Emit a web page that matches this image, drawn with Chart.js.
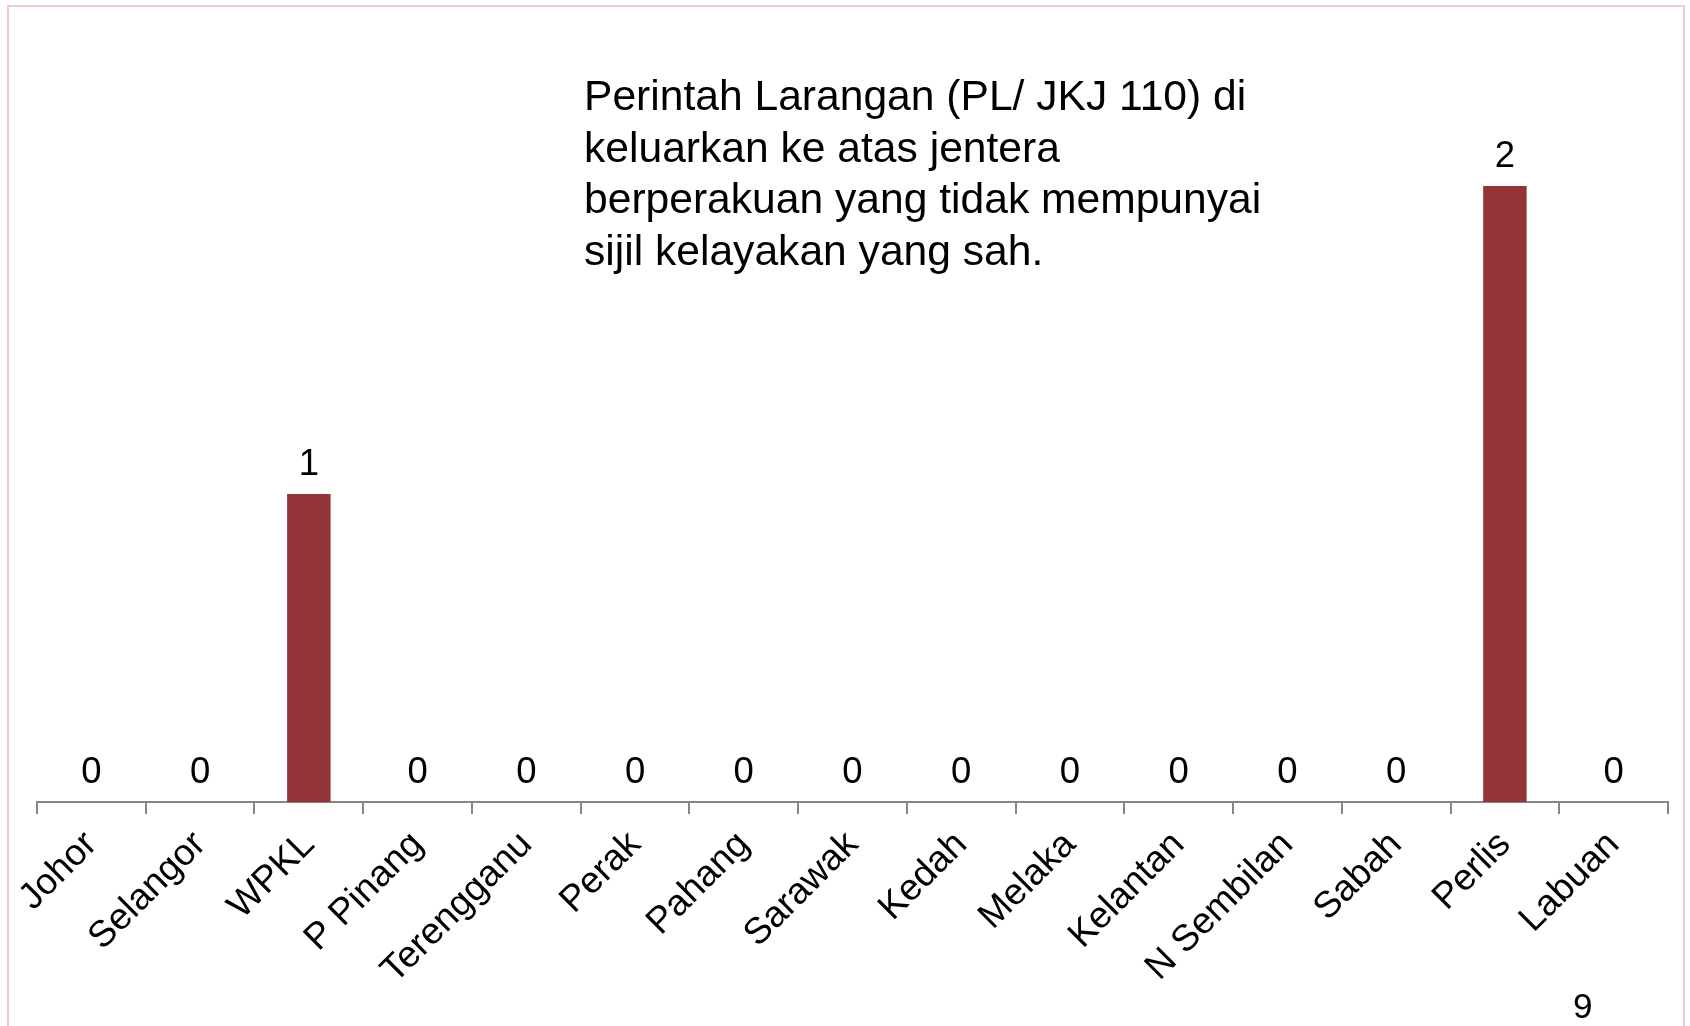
<!DOCTYPE html>
<html>
<head>
<meta charset="utf-8">
<script src="https://cdn.jsdelivr.net/npm/chart.js@4/dist/chart.umd.min.js"></script>
<style>
  html, body { margin: 0; padding: 0; background: #ffffff; }
  body { width: 1690px; height: 1026px; position: relative; overflow: hidden; font-family: "Liberation Sans", Arial, sans-serif; }
  #frame { position: absolute; left: 7px; top: 5px; width: 1678px; height: 1100px; border: 2px solid #f0cccc; box-sizing: border-box; }
  #wrap { position: absolute; left: 0; top: 0; width: 1690px; height: 1026px; }
  #note { position: absolute; left: 584px; top: 70px; font-size: 42.6px; line-height: 51.7px; color: #000; white-space: nowrap; }
  #page { position: absolute; left: 1573px; top: 988px; font-size: 35px; line-height: 35px; color: #000; }
</style>
</head>
<body>
<div id="frame"></div>
<div id="wrap"><canvas id="c" width="1690" height="1026"></canvas></div>
<div id="note">Perintah Larangan (PL/ JKJ 110) di<br>keluarkan ke atas jentera<br>berperakuan yang tidak mempunyai<br>sijil kelayakan yang sah.</div>
<div id="page">9</div>
<script>
const categories = ["Johor", "Selangor", "WPKL", "P Pinang", "Terengganu", "Perak", "Pahang", "Sarawak", "Kedah", "Melaka", "Kelantan", "N Sembilan", "Sabah", "Perlis", "Labuan"];
const values = [0, 0, 1, 0, 0, 0, 0, 0, 0, 0, 0, 0, 0, 2, 0];

const valueLabels = {
  id: 'valueLabels',
  afterDatasetsDraw(chart) {
    const ctx = chart.ctx;
    const meta = chart.getDatasetMeta(0);
    ctx.save();
    ctx.font = '36.5px "Liberation Sans", Arial, sans-serif';
    ctx.fillStyle = '#000000';
    ctx.textAlign = 'center';
    ctx.textBaseline = 'alphabetic';
    meta.data.forEach((bar, i) => {
      ctx.fillText(String(values[i]), bar.x, bar.y - 19);
    });
    ctx.restore();
  }
};

new Chart(document.getElementById('c'), {
  type: 'bar',
  data: {
    labels: categories,
    datasets: [{
      data: values,
      backgroundColor: '#953436',
      borderWidth: 0,
      barPercentage: 0.4,
      categoryPercentage: 1.0
    }]
  },
  options: {
    responsive: false,
    animation: false,
    devicePixelRatio: 1,
    layout: { padding: { top: 32, left: 37, right: 22, bottom: 0 } },
    plugins: { legend: { display: false }, tooltip: { enabled: false } },
    scales: {
      x: {
        afterFit(scale) { scale.height = 224; },
        grid: { display: true, drawOnChartArea: false, drawTicks: true, tickLength: 12, color: '#868686', lineWidth: 2, offset: true },
        border: { display: true, color: '#868686', width: 2 },
        ticks: {
          color: '#000000',
          font: { family: '"Liberation Sans", Arial, sans-serif', size: 37 },
          minRotation: 45, maxRotation: 45,
          autoSkip: false,
          padding: 9
        }
      },
      y: {
        display: false,
        min: 0,
        max: 2.5
      }
    }
  },
  plugins: [valueLabels]
});
</script>
</body>
</html>
